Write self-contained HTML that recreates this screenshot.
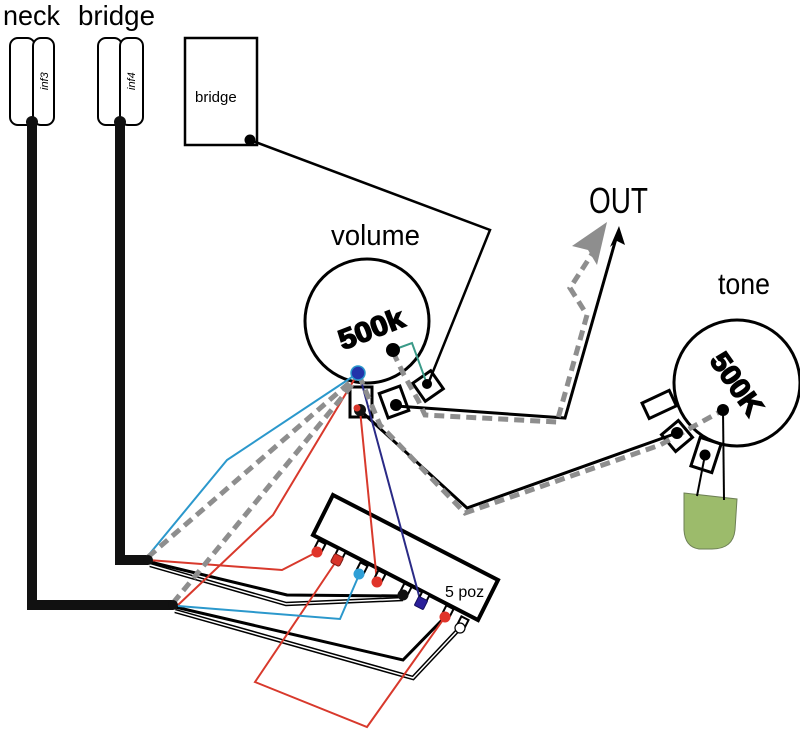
<!DOCTYPE html>
<html><head><meta charset="utf-8"><style>
html,body{margin:0;padding:0;background:#fff;}
svg{display:block;}
text{font-family:"Liberation Sans",sans-serif;}
</style></head><body>
<svg width="800" height="731" viewBox="0 0 800 731" xmlns="http://www.w3.org/2000/svg">
<rect width="800" height="731" fill="#fff"/>

<!-- labels -->
<text x="3" y="25" font-size="28" textLength="57" lengthAdjust="spacingAndGlyphs">neck</text>
<text x="78" y="25" font-size="28" textLength="77" lengthAdjust="spacingAndGlyphs">bridge</text>
<text x="331" y="245" font-size="29" textLength="89" lengthAdjust="spacingAndGlyphs">volume</text>
<text x="589" y="213" font-size="36" textLength="59" lengthAdjust="spacingAndGlyphs">OUT</text>
<text x="718" y="294" font-size="30" textLength="52" lengthAdjust="spacingAndGlyphs">tone</text>

<!-- pickups -->
<g fill="#fff" stroke="#000" stroke-width="2">
<rect x="10" y="38" width="25" height="87" rx="8"/>
<rect x="33" y="38" width="21" height="87" rx="8"/>
<rect x="98" y="38" width="24" height="87" rx="8"/>
<rect x="120" y="38" width="23" height="87" rx="8"/>
</g>
<text transform="translate(48,90) rotate(-90)" font-size="11" font-style="italic">inf3</text>
<text transform="translate(135,90) rotate(-90)" font-size="11" font-style="italic">inf4</text>

<!-- bridge box -->
<rect x="185" y="38" width="72" height="107" fill="#fff" stroke="#000" stroke-width="2.5"/>
<text x="195" y="102" font-size="15">bridge</text>

<!-- thick cables -->
<polyline points="32,122 32,605 173,605" fill="none" stroke="#111" stroke-width="10"/>
<polyline points="120,122 120,560 148,560" fill="none" stroke="#111" stroke-width="10"/>
<circle cx="32" cy="122" r="6" fill="#111"/>
<circle cx="120" cy="122" r="6" fill="#111"/>

<!-- volume pot -->
<circle cx="367" cy="321" r="62" fill="#fff" stroke="#000" stroke-width="3"/>
<text transform="translate(372,331) rotate(-21)" font-size="28" font-weight="bold" text-anchor="middle" dominant-baseline="middle" stroke="#000" stroke-width="1.5" textLength="68" lengthAdjust="spacingAndGlyphs">500k</text>
<g fill="#fff" stroke="#000" stroke-width="3">
<rect x="350" y="387" width="22" height="30"/>
<rect x="-11" y="-13" width="22" height="26" transform="translate(394,402) rotate(-20)"/>
<rect x="-11" y="-11" width="22" height="22" transform="translate(428,386) rotate(-35)"/>
</g>

<!-- tone pot -->
<circle cx="737" cy="383" r="63" fill="#fff" stroke="#000" stroke-width="3"/>
<text transform="translate(735,385) rotate(55)" font-size="28" font-weight="bold" text-anchor="middle" dominant-baseline="middle" stroke="#000" stroke-width="1.5" textLength="70" lengthAdjust="spacingAndGlyphs">500K</text>
<g fill="#fff" stroke="#000" stroke-width="3">
<rect x="-15" y="-8" width="30" height="17" transform="translate(659,404) rotate(-25)"/>
<rect x="-11" y="-11" width="22" height="22" transform="translate(677,436) rotate(-40)"/>
<rect x="-11" y="-15" width="22" height="30" transform="translate(706,455) rotate(18)"/>
</g>

<!-- capacitor -->
<path d="M684 493 L737 499 L735 530 Q733 549 712 549 L699 549 Q685 547 684 530 Z" fill="#9cbb6b" stroke="#6d7f55" stroke-width="1"/>
<line x1="705" y1="455" x2="697" y2="496" stroke="#000" stroke-width="2"/>
<line x1="723" y1="410" x2="724" y2="500" stroke="#000" stroke-width="2"/>

<!-- switch -->
<polygon points="333,495 498,580 478,620 313,535" fill="#fff" stroke="#000" stroke-width="4"/>
<text x="445" y="597" font-size="16">5 poz</text>

<!-- bridge pickup wire -->
<polyline points="250,140 490,230 428,384" fill="none" stroke="#000" stroke-width="2.5"/>

<!-- teal wire -->
<polyline points="393,350 412,343 427,384" fill="none" stroke="#3a9a88" stroke-width="2"/>

<!-- black output / tone wires -->
<polyline points="396,406 565,418 617,235" fill="none" stroke="#000" stroke-width="3"/>
<polygon points="619,226 610,247 617,241 625,245" fill="#000"/>
<polyline points="362,412 467,508 663,438 677,433" fill="none" stroke="#000" stroke-width="3"/>

<!-- switch wiring: black & white wires -->
<polyline points="150,562 287,595 403,596" fill="none" stroke="#000" stroke-width="3"/>
<polyline points="150,565 286,604 403,599" fill="none" stroke="#000" stroke-width="4.5"/>
<polyline points="150,565 286,604 403,599" fill="none" stroke="#fff" stroke-width="1.5"/>
<polyline points="175,607 403,660 445,617" fill="none" stroke="#000" stroke-width="3"/>
<polyline points="175,611 413,678 460,628" fill="none" stroke="#000" stroke-width="4.5"/>
<polyline points="175,611 413,678 460,628" fill="none" stroke="#fff" stroke-width="1.5"/>

<!-- red wires -->
<g fill="none" stroke="#d8392c" stroke-width="2">
<polyline points="148,560 282,570 317,552"/>
<polyline points="178,605 273,515 357,375"/>
<polyline points="360,410 377,582"/>
<polyline points="337,560 255,682 367,727 445,617"/>
</g>

<!-- blue wires -->
<g fill="none" stroke="#2b98cc" stroke-width="2">
<polyline points="147,557 227,460 343,383 358,373"/>
<polyline points="178,606 340,619 359,575"/>
</g>

<!-- navy wire -->
<line x1="359" y1="373" x2="421" y2="603" stroke="#2a2a86" stroke-width="2"/>

<!-- gray dashed -->
<g fill="none" stroke="#8e8e8e" stroke-width="5" stroke-dasharray="10 6">
<polyline points="148,557 355,378"/>
<polyline points="173,603 352,385"/>
<polyline points="393,352 404,375 418,400 425,415 557,422 587,315 570,288 592,254"/>
<polyline points="359,375 380,425 465,513 660,445 723,410"/>
</g>
<polygon points="607,222 572,246 588,250 597,265" fill="#8e8e8e"/>

<!-- switch terminals -->
<g fill="#fff" stroke="#000" stroke-width="2">
<rect x="-4" y="-11" width="8" height="9" transform="translate(317,552) rotate(27)"/>
<rect x="-4" y="-11" width="8" height="9" transform="translate(337,560) rotate(27)"/>
<rect x="-4" y="-11" width="8" height="9" transform="translate(359,574) rotate(27)"/>
<rect x="-4" y="-11" width="8" height="9" transform="translate(377,582) rotate(27)"/>
<rect x="-4" y="-11" width="8" height="9" transform="translate(403,595) rotate(27)"/>
<rect x="-4" y="-11" width="8" height="9" transform="translate(421,603) rotate(27)"/>
<rect x="-4" y="-11" width="8" height="9" transform="translate(445,617) rotate(27)"/>
<rect x="-4" y="-11" width="8" height="9" transform="translate(460,628) rotate(27)"/>
</g>
<circle cx="317" cy="552" r="5.5" fill="#e0342a"/>
<rect x="-5" y="-5" width="10" height="10" rx="2" transform="translate(337,560) rotate(27)" fill="#d8352a" stroke="#7a1a14" stroke-width="1"/>
<circle cx="359" cy="574" r="5.5" fill="#2f9fd6"/>
<circle cx="377" cy="582" r="5.5" fill="#e0342a"/>
<circle cx="403" cy="595" r="5.5" fill="#111"/>
<rect x="-5" y="-5" width="10" height="10" rx="1" transform="translate(421,603) rotate(27)" fill="#2b1f9a" stroke="#140e5a" stroke-width="1"/>
<circle cx="445" cy="617" r="5.5" fill="#e0342a"/>
<circle cx="460" cy="628" r="5" fill="#fff" stroke="#000" stroke-width="1.2"/>

<!-- junction dots -->
<circle cx="148" cy="560" r="5" fill="#111"/>
<circle cx="173" cy="605" r="5" fill="#111"/>

<!-- pot dots -->
<circle cx="250" cy="140" r="5.5" fill="#000"/>
<circle cx="393" cy="350" r="7" fill="#000"/>
<circle cx="360" cy="410" r="6" fill="#111"/>
<circle cx="357" cy="408" r="3.5" fill="#d8352a"/>
<circle cx="396" cy="405" r="6" fill="#000"/>
<circle cx="427" cy="384" r="5" fill="#000"/>
<circle cx="358" cy="373" r="7" fill="#2233aa" stroke="#2b98cc" stroke-width="1.5"/>
<circle cx="723" cy="410" r="6" fill="#000"/>
<circle cx="677" cy="433" r="6" fill="#000"/>
<circle cx="705" cy="455" r="5.5" fill="#000"/>
</svg>
</body></html>
